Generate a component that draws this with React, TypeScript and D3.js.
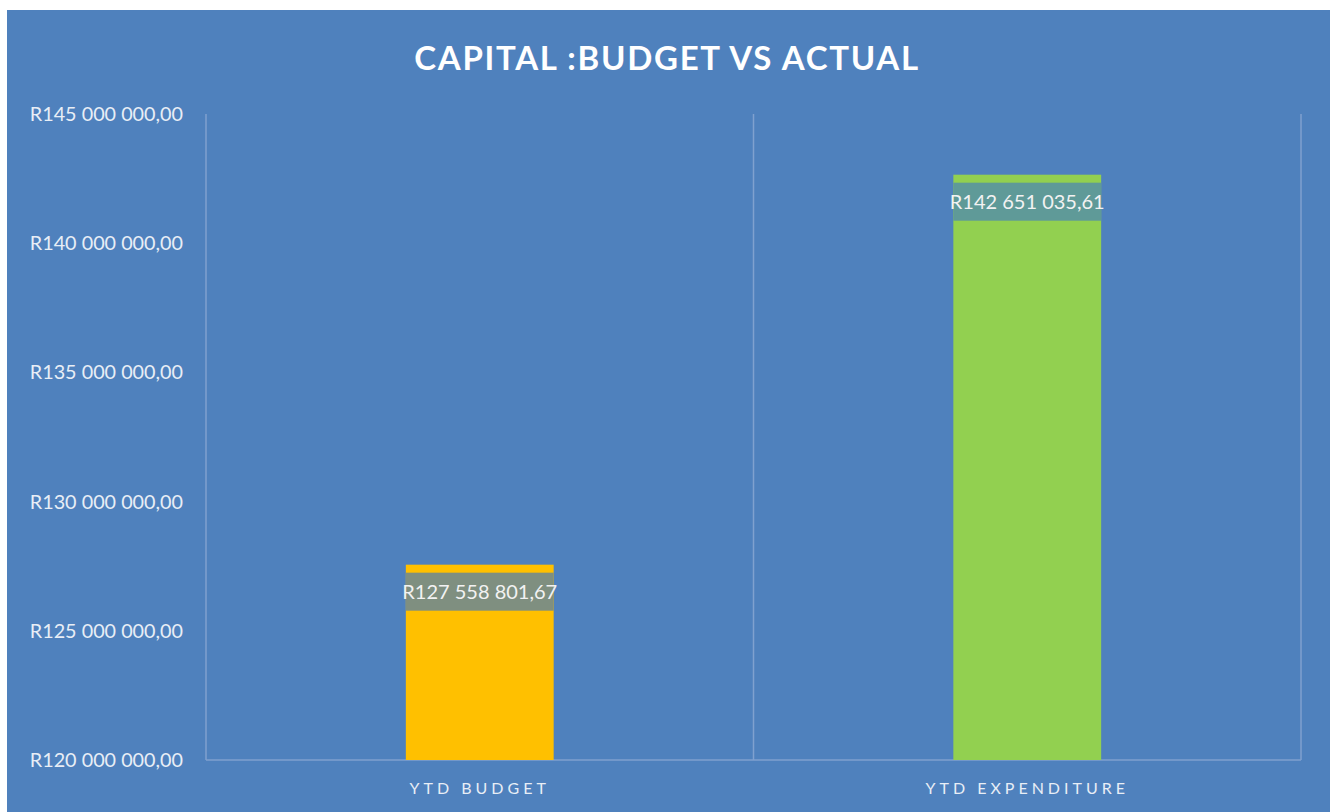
import React from "react";
import * as d3 from "d3";

const categories = ["YTD BUDGET", "YTD EXPENDITURE"];
const values = [127558801.67, 142651035.61];
const valueLabels = ["R127 558 801,67", "R142 651 035,61"];
const barColors = ["#FFC000", "#92D050"];
const labelBoxColors = ["#7F8F80", "#5F9A98"];
const yTicks = [120000000, 125000000, 130000000, 135000000, 140000000, 145000000];
const yTickLabels = [
  "R120 000 000,00",
  "R125 000 000,00",
  "R130 000 000,00",
  "R135 000 000,00",
  "R140 000 000,00",
  "R145 000 000,00",
];
const title = "CAPITAL :BUDGET VS ACTUAL";

export default function App() {
  const W = 1335;
  const H = 812;
  const left = 206;
  const right = 1301;
  const top = 114;
  const bottom = 760;

  const x = d3.scaleBand<string>().domain(categories).range([left, right]).padding(0);
  const y = d3.scaleLinear().domain([120000000, 145000000]).range([bottom, top]);
  const bw = x.bandwidth() * 0.27;
  const gridColor = "#7FA1CF";
  const textColor = "#E8EEF6";
  const font = "Lato, 'Open Sans', sans-serif";

  const boundaries = [left, ...categories.map((c) => (x(c) as number) + x.bandwidth())];

  return (
    <svg
      width={W}
      height={H}
      style={{ position: "absolute", left: 0, top: 0, display: "block" }}
    >
      <rect x={0} y={0} width={W} height={H} fill="#ffffff" />
      <rect x={7} y={10} width={1323} height={H - 10} fill="#4F81BD" />
      <text
        x={667}
        y={70}
        textAnchor="middle"
        fill="#ffffff"
        fontFamily={font}
        fontWeight="bold"
        fontSize={33}
        letterSpacing={1.7}
      >
        {title}
      </text>
      {boundaries.map((bx, i) => (
        <line
          key={"g" + i}
          x1={bx}
          x2={bx}
          y1={top}
          y2={bottom}
          stroke={gridColor}
          strokeWidth={1.5}
        />
      ))}
      <line x1={left} x2={right} y1={bottom} y2={bottom} stroke={gridColor} strokeWidth={1.5} />
      {yTicks.map((t, i) => (
        <text
          key={"t" + i}
          x={183}
          y={y(t)}
          dy="0.35em"
          textAnchor="end"
          fill={textColor}
          fontFamily={font}
          fontSize={19.8}
        >
          {yTickLabels[i]}
        </text>
      ))}
      {categories.map((c, i) => {
        const cx = (x(c) as number) + x.bandwidth() / 2;
        const yt = y(values[i]);
        const ly = yt + 27;
        return (
          <g key={c}>
            <rect x={cx - bw / 2} y={yt} width={bw} height={bottom - yt} fill={barColors[i]} />
            <rect x={cx - bw / 2} y={ly - 19} width={bw} height={38} fill={labelBoxColors[i]} />
            <text
              x={cx}
              y={ly}
              dy="0.35em"
              textAnchor="middle"
              fill="#F2F2F2"
              fontFamily={font}
              fontSize={20}
            >
              {valueLabels[i]}
            </text>
            <text
              x={cx}
              y={788}
              dy="0.35em"
              textAnchor="middle"
              fill={textColor}
              fontFamily={font}
              fontSize={16}
              letterSpacing={4}
            >
              {c}
            </text>
          </g>
        );
      })}
    </svg>
  );
}
